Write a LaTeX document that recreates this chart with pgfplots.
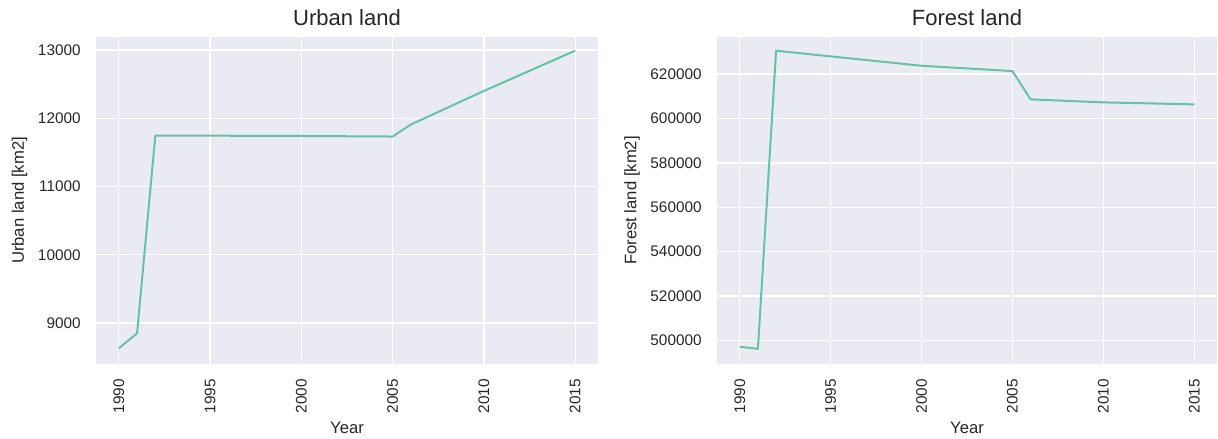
\documentclass[border=0pt]{standalone}
\usepackage{fontspec}
\setmainfont{Liberation Sans}
\usepackage{pgfplots}
\pgfplotsset{compat=1.18}

\definecolor{panelbg}{HTML}{EAEAF2}
\definecolor{txt}{HTML}{262626}
\definecolor{setgreen}{HTML}{66C2A5}

\pgfplotsset{
  landpanel/.style={
    scale only axis,
    height=245.25pt,
    axis background/.style={fill=panelbg},
    axis line style={draw=none},
    major tick length=0pt,
    grid=major,
    major grid style={white, line width=1pt},
    xmin=1988.75, xmax=2016.25,
    xtick={1990,1995,...,2015},
    scaled y ticks=false,
    scaled x ticks=false,
    /pgf/number format/fixed,
    /pgf/number format/precision=0,
    /pgf/number format/1000 sep={},
    /pgf/number format/assume math mode=true,
    tick label style={font=\fontsize{11.5}{13}\selectfont, text=txt},
    xticklabel style={rotate=90, anchor=east, xshift=-8pt},
    yticklabel style={xshift=-8pt},
    label style={font=\fontsize{12.5}{14}\selectfont, text=txt},
    xlabel={Year},
    xlabel style={at={(axis description cs:0.5,-0.214)}, anchor=base},
    every axis title shift=0pt,
    title style={font=\fontsize{16.5}{18}\selectfont, text=txt,
                 at={(axis description cs:0.5,1.034)}, anchor=base},
  },
  landline/.style={color=setgreen, line width=1.5pt, line join=round, no marks},
}

\begin{document}
\begin{tikzpicture}
\useasboundingbox (-72pt,-56.25pt) rectangle (841.5pt,273pt);

% Urban land area
\begin{axis}[landpanel,
  width=376.5pt,
  ymin=8400, ymax=13190,
  ytick={9000,10000,...,13000},
  title={Urban land},
  ylabel={Urban land [km2]},
  ylabel style={at={(axis description cs:-0.1524,0.5)}, anchor=center},
]
\addplot[landline] coordinates {
  (1990,8630) (1991,8849) (1992,11747) (2000,11740)
  (2005,11732) (2006,11908) (2010,12400) (2015,12990)
};
\end{axis}

% Forest land area
\begin{axis}[landpanel,
  xshift=465.75pt,
  width=375pt,
  ymin=489400, ymax=636700,
  ytick={500000,520000,...,620000},
  title={Forest land},
  ylabel={Forest land [km2]},
  ylabel style={at={(axis description cs:-0.17,0.5)}, anchor=center},
]
\addplot[landline] coordinates {
  (1990,497150) (1991,496250) (1992,630500) (2000,623750)
  (2005,621350) (2006,608600) (2010,607250) (2015,606350)
};
\end{axis}
\end{tikzpicture}
\end{document}
